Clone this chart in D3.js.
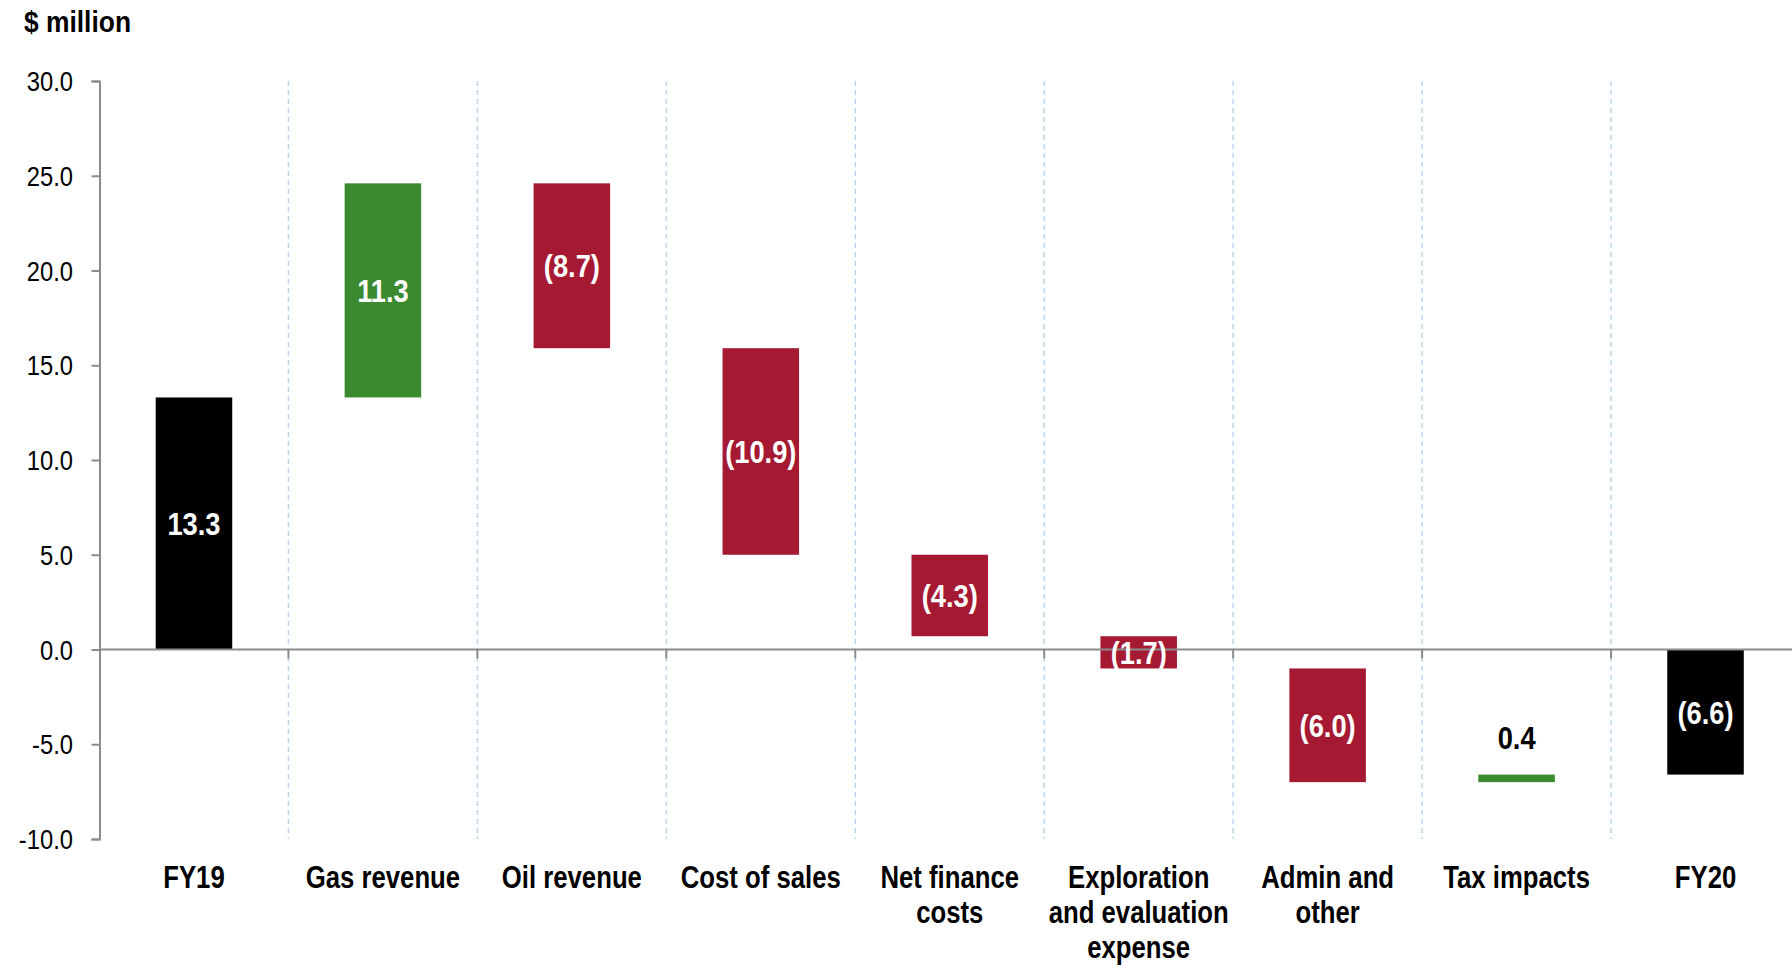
<!DOCTYPE html>
<html>
<head>
<meta charset="utf-8">
<script src="https://cdn.jsdelivr.net/npm/d3@7"></script>
<style>
  body { margin: 0; background: #fff; }
  svg { display: block; font-family: "Liberation Sans", Arial, sans-serif; }
</style>
</head>
<body>
<div id="chart"></div>
<script>
const categories = ["FY19", "Gas revenue", "Oil revenue", "Cost of sales", "Net finance costs",
                    "Exploration and evaluation expense", "Admin and other", "Tax impacts", "FY20"];
const labelLines = [["FY19"], ["Gas revenue"], ["Oil revenue"], ["Cost of sales"], ["Net finance", "costs"],
                    ["Exploration", "and evaluation", "expense"], ["Admin and", "other"], ["Tax impacts"], ["FY20"]];
const values = [13.3, 11.3, -8.7, -10.9, -4.3, -1.7, -6.0, 0.4, -6.6];
const kinds = ["total", "delta", "delta", "delta", "delta", "delta", "delta", "delta", "total"];
const yTicks = [-10, -5, 0, 5, 10, 15, 20, 25, 30];

const W = 1792, H = 968;

const svg = d3.select("#chart").append("svg")
    .attr("width", W)
    .attr("height", H);

const y = d3.scaleLinear().domain([-10, 30]).range([839, 81]);
const x = d3.scaleBand().domain(categories).range([99.5, 1800]).padding(0);

// waterfall start / end
let running = 0;
const bars = categories.map((c, i) => {
    let y0, y1;
    if (kinds[i] === "total") {
        y0 = 0; y1 = values[i]; running = values[i];
    } else {
        y0 = running; y1 = running + values[i]; running = y1;
    }
    return { cat: c, value: values[i], kind: kinds[i], y0, y1 };
});

const color = d => d.kind === "total" ? "#000000" : (d.value >= 0 ? "#3c8a2f" : "#a51a32");
const fmt = v => v < 0 ? "(" + Math.abs(v).toFixed(1) + ")" : v.toFixed(1);

// dashed separators
svg.append("g").selectAll("line")
    .data(categories.slice(1))
    .join("line")
    .attr("x1", d => x(d)).attr("x2", d => x(d))
    .attr("y1", y(30)).attr("y2", y(-10))
    .attr("stroke", "#bcd5ec")
    .attr("stroke-width", 1.5)
    .attr("stroke-dasharray", "5,4");

// bars
const barW = x.bandwidth() * 0.405;
svg.append("g").selectAll("rect")
    .data(bars)
    .join("rect")
    .attr("x", d => x(d.cat) + (x.bandwidth() - barW) / 2)
    .attr("width", barW)
    .attr("y", d => y(Math.max(d.y0, d.y1)))
    .attr("height", d => Math.abs(y(d.y0) - y(d.y1)))
    .attr("fill", color);

// zero line + ticks between categories
svg.append("line")
    .attr("x1", 99.5).attr("x2", W)
    .attr("y1", y(0)).attr("y2", y(0))
    .attr("stroke", "#8c8c8c").attr("stroke-width", 2);
svg.append("g").selectAll("line")
    .data(categories.slice(1))
    .join("line")
    .attr("x1", d => x(d)).attr("x2", d => x(d))
    .attr("y1", y(0)).attr("y2", y(0) + 9)
    .attr("stroke", "#8c8c8c").attr("stroke-width", 2);

// y axis
const tsx = 0.88;
const yAxis = svg.append("g")
    .attr("transform", "translate(99.5,0)")
    .call(d3.axisLeft(y).tickValues(yTicks).tickSize(8).tickSizeOuter(8)
        .tickFormat(d => d.toFixed(1)));
yAxis.select(".domain").attr("stroke", "#8c8c8c").attr("stroke-width", 2);
yAxis.selectAll(".tick line").attr("stroke", "#8c8c8c").attr("stroke-width", 2);
yAxis.selectAll(".tick text")
    .attr("x", -26.5 / tsx)
    .attr("dy", "0.36em")
    .attr("transform", `scale(${tsx},1)`)
    .attr("fill", "#000")
    .style("font-size", "27px");

// bar labels
const lbl = svg.append("g").selectAll("g")
    .data(bars)
    .join("g")
    .attr("transform", d => {
        const cx = x(d.cat) + x.bandwidth() / 2;
        const top = y(Math.max(d.y0, d.y1)), bot = y(Math.min(d.y0, d.y1));
        const cy = d.cat === "Tax impacts" ? top - 26 : (top + bot) / 2 + 11.5;
        return `translate(${cx},${cy}) scale(0.88,1)`;
    });
lbl.append("text")
    .attr("text-anchor", "middle")
    .attr("font-weight", "bold")
    .style("font-size", "31px")
    .attr("fill", d => d.cat === "Tax impacts" ? "#000" : "#fff")
    .text(d => fmt(d.value));

// category labels
const cl = svg.append("g").selectAll("g")
    .data(categories)
    .join("g")
    .attr("transform", d => `translate(${x(d) + x.bandwidth() / 2},888) scale(0.83,1)`);
cl.append("text")
    .attr("text-anchor", "middle")
    .attr("font-weight", "bold")
    .style("font-size", "31px")
    .attr("fill", "#000")
    .selectAll("tspan")
    .data((d, i) => labelLines[i])
    .join("tspan")
    .attr("x", 0)
    .attr("y", (d, i) => i * 35)
    .text(d => d);

// unit title
svg.append("g")
    .attr("transform", "translate(24,32) scale(0.91,1)")
    .append("text")
    .attr("font-weight", "bold")
    .style("font-size", "29px")
    .attr("fill", "#000")
    .text("$ million");
</script>
</body>
</html>
